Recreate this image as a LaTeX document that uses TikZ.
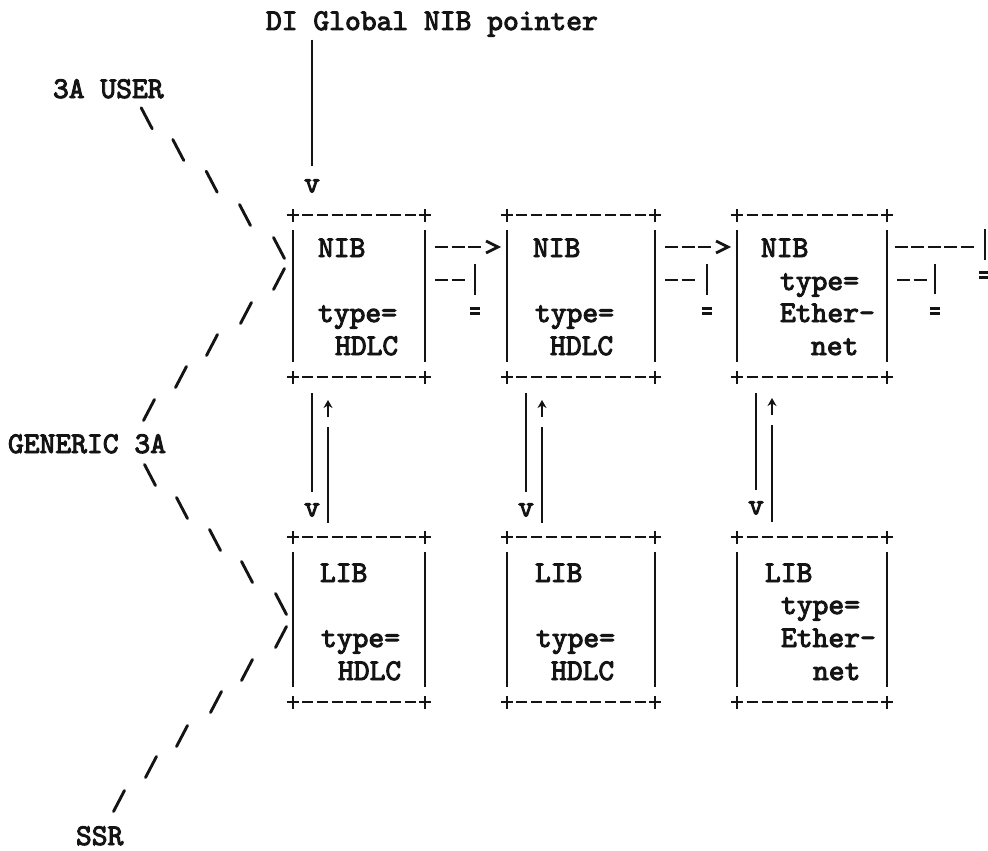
\documentclass[tikz,border=0pt]{standalone}
\usepackage{fontspec}
\newfontfamily\typew[FakeBold=3.2]{lmmono10-regular.otf}
\usetikzlibrary{arrows.meta,calc}
\definecolor{ink}{gray}{0.08}
\tikzset{
  txt/.style={font=\typew\fontsize{30.1}{34}\selectfont, text=ink, anchor=base west, inner sep=0pt, outer sep=0pt},
  glyph/.style={font=\typew\fontsize{30.1}{34}\selectfont, text=ink, anchor=center, inner sep=0pt, outer sep=0pt},
  boxnode/.style={draw=none, rectangle, inner sep=0pt, outer sep=0pt},
  side/.style={draw=ink, line width=2.5pt},
  plusline/.style={draw=ink, line width=2.8pt},
  edgedash/.style={draw=ink, line width=2.8pt},
  asciidash/.style={draw=ink, line width=2.8pt, dash pattern=on 13pt off 3.5pt},
  slash/.style={draw=ink, line width=2.9pt, line cap=round},
  chev/.style={draw=ink, line width=2.7pt, line join=miter},
  eqbar/.style={draw=ink, line width=2.3pt},
  uparrow/.style={draw=ink, line width=2.3pt, -{Stealth[length=8pt,width=9pt]}},
}
\newcommand{\drawasciibox}[2]{%
  \draw[side] ([yshift=-15pt]#1.north west) -- ([yshift=15pt]#1.south west);
  \draw[side] ([yshift=-15pt]#1.north east) -- ([yshift=15pt]#1.south east);
  \foreach \corner in {north west,north east,south west,south east}{%
    \draw[plusline] ([xshift=-6pt]#1.\corner) -- ([xshift=6pt]#1.\corner);
    \draw[plusline] ([yshift=-6.5pt]#1.\corner) -- ([yshift=6.5pt]#1.\corner);
  }%
  \foreach \i in {1,...,#2}{%
    \draw[edgedash] ($(#1.north west)!{\i/(#2+1)}!(#1.north east)+(-5.5pt,0)$) -- ++(11pt,0);
    \draw[edgedash] ($(#1.south west)!{\i/(#2+1)}!(#1.south east)+(-5.5pt,0)$) -- ++(11pt,0);
  }%
}
\begin{document}
\begin{tikzpicture}[x=1pt,y=-1pt]
\fill[white] (0,0) rectangle (988,851);
\useasboundingbox (0,0) rectangle (988,851);

% ---- boxes
\node[boxnode, minimum width=132pt, minimum height=162pt] (nib1) at (359,296) {};
\node[boxnode, minimum width=148pt, minimum height=162pt] (nib2) at (581,296) {};
\node[boxnode, minimum width=150pt, minimum height=162pt] (nib3) at (812,296) {};
\node[boxnode, minimum width=132pt, minimum height=165pt] (lib1) at (359,619.5) {};
\node[boxnode, minimum width=148pt, minimum height=165pt] (lib2) at (581,619.5) {};
\node[boxnode, minimum width=150pt, minimum height=165pt] (lib3) at (812,619.5) {};
\drawasciibox{nib1}{8}
\drawasciibox{nib2}{9}
\drawasciibox{nib3}{9}
\drawasciibox{lib1}{8}
\drawasciibox{lib2}{9}
\drawasciibox{lib3}{9}

% ---- box texts
\node[txt] (n1a) at (318,257) {NIB};
\node[txt] (n1b) at (318,322) {type=};
\node[txt] (n1c) at (335,355) {HDLC};
\node[txt] (n2a) at (533,257) {NIB};
\node[txt] (n2b) at (535,322) {type=};
\node[txt] (n2c) at (550,355) {HDLC};
\node[txt] (n3a) at (761,257) {NIB};
\node[txt] (n3b) at (780,290) {type=};
\node[txt] (n3c) at (780,322) {Ether-};
\node[txt] (n3d) at (811,355) {net};
\node[txt] (l1a) at (320,582) {LIB};
\node[txt] (l1b) at (321,647) {type=};
\node[txt] (l1c) at (338,680) {HDLC};
\node[txt] (l2a) at (535,582) {LIB};
\node[txt] (l2b) at (536,647) {type=};
\node[txt] (l2c) at (551,680) {HDLC};
\node[txt] (l3a) at (765,582) {LIB};
\node[txt] (l3b) at (781,614) {type=};
\node[txt] (l3c) at (781,647) {Ether-};
\node[txt] (l3d) at (813,680) {net};

% ---- outside labels
\node[txt] (dig) at (266,30) {DI Global NIB pointer};
\node[txt] (user) at (53,98) {3A USER};
\node[txt] (gen) at (8,453) {GENERIC 3A};
\node[txt] (ssr) at (76,845) {SSR};

% ---- global pointer
\node[glyph] (vtop) at (312,186) {v};
\draw[side] ([yshift=-3pt]vtop |- dig.south) -- ([yshift=13pt]vtop.north);

% ---- slash lines on the left
\foreach \px/\py in {146.7/118.3, 178.3/150, 211.7/181.7, 245/215, 279/248,
                     150/475, 182/508, 215/540, 247/572, 281/604}
  \draw[slash] (\px-5.5,\py-10.5) -- (\px+5.5,\py+10.5);
\foreach \px/\py in {279/279, 246/313, 212/345, 181/377, 149/410,
                     281/637, 247/670, 216/702, 182/736, 151/767, 119/801}
  \draw[slash] (\px+5.5,\py-10.5) -- (\px-5.5,\py+10.5);

% ---- links between NIBs
\coordinate (a1) at (435,247);
\coordinate (a1t) at (498,247);
\draw[asciidash] (a1) -- ++(46,0);
\draw[chev] ($(a1t)+(-12,-6)$) -- (a1t) -- ($(a1t)+(-12,6)$);
\draw[asciidash] (435,280) -- ++(29.5,0);
\draw[side] (475,264) -- (475,295);
\draw[eqbar] (470,308.5) -- (480,308.5) (470,313.5) -- (480,313.5);

\coordinate (a2) at (665,247);
\coordinate (a2t) at (728,247);
\draw[asciidash] (a2) -- ++(46,0);
\draw[chev] ($(a2t)+(-12,-6)$) -- (a2t) -- ($(a2t)+(-12,6)$);
\draw[asciidash] (665,280) -- ++(29.5,0);
\draw[side] (707,264) -- (707,295);
\draw[eqbar] (702,308.5) -- (712,308.5) (702,313.5) -- (712,313.5);

\draw[asciidash, dash pattern=on 13pt off 3.4pt] (895,247) -- ++(78.6,0);
\draw[side] (985,229) -- (985,260);
\draw[asciidash] (897,280) -- ++(29.5,0);
\draw[side] (935,264) -- (935,294);
\draw[eqbar] (930,308.5) -- (940,308.5) (930,313.5) -- (940,313.5);
\draw[eqbar] (979,272.5) -- (988,272.5) (979,277.5) -- (988,277.5);

% ---- NIB <-> LIB pairs
\node[glyph] (v1) at (312,510) {v};
\draw[side] ([yshift=-16pt]nib1.south -| v1) -- ([yshift=11pt]v1.north);
\coordinate (u1) at (328,417);
\draw[uparrow] (u1) -- ++(0,-17);
\draw[side] ([yshift=14pt]lib1.north -| u1) -- ([yshift=-10pt]u1);

\node[glyph] (v2) at (526,510) {v};
\draw[side] ([yshift=-16pt]nib2.south -| v2) -- ([yshift=11pt]v2.north);
\coordinate (u2) at (542,417);
\draw[uparrow] (u2) -- ++(0,-17);
\draw[side] ([yshift=14pt]lib2.north -| u2) -- ([yshift=-10pt]u2);

\node[glyph] (v3) at (756,508) {v};
\draw[side] ([yshift=-16pt]nib3.south -| v3) -- ([yshift=11pt]v3.north);
\coordinate (u3) at (772,415);
\draw[uparrow] (u3) -- ++(0,-17);
\draw[side] ([yshift=15pt]lib3.north -| u3) -- ([yshift=-10pt]u3);
\end{tikzpicture}
\end{document}
